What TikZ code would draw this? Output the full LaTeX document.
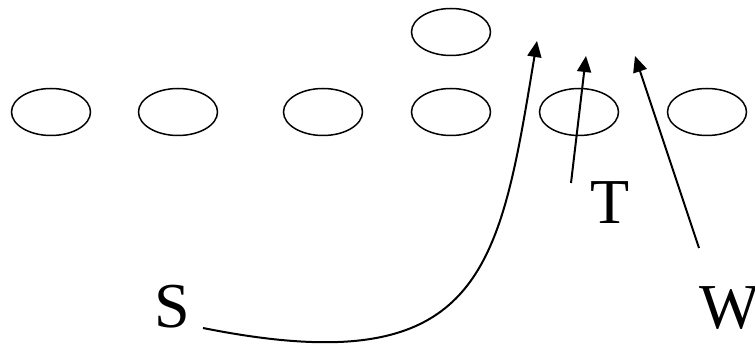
\documentclass[tikz,border=0pt]{standalone}
\usepackage{fontspec}
\setmainfont{Liberation Serif}
\usetikzlibrary{shapes.geometric}
\usetikzlibrary{arrows.meta}

\begin{document}
\begin{tikzpicture}[x=1pt, y=-1pt,
  player/.style={draw, ellipse, line width=1.5pt, minimum width=79pt, minimum height=47pt, inner sep=0pt},
  route/.style={line width=2pt, -{Triangle[length=16pt, width=14pt]}},
  letter/.style={anchor=base, inner sep=0pt, font=\fontsize{64}{64}\selectfont}]
\useasboundingbox (0,0) rectangle (755,347);

% the line and the one in front of it
\foreach \x/\n in {51/a, 178/b, 323/c, 451/d, 579/e, 707/f}
  \node[player] (p\n) at (\x,112) {};
\node[player] (front) at (451,32) {};

\node[letter] (S) at (172,327) {S};
\node[letter] (T) at (610,224) {T};
\node[letter] (W) at (730,328) {W};

\coordinate (Sstart) at (203,328);
\coordinate (Send) at (537,41);
\coordinate (Tstart) at (571,183);
\coordinate (Tend) at (586,56);
\coordinate (Wstart) at (699,248);
\coordinate (Wend) at (635,56);

\draw[route] (Sstart) .. controls (483,384) and (499,271) .. (Send);
\draw[route] (Tstart) -- (Tend);
\draw[route] (Wstart) -- (Wend);

\end{tikzpicture}
\end{document}
